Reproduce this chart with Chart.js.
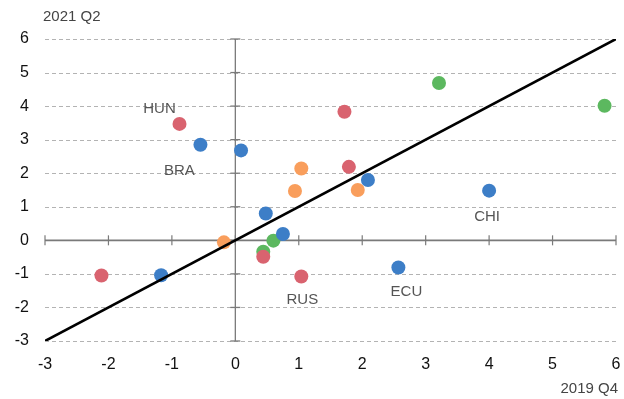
<!DOCTYPE html>
<html>
<head>
<meta charset="utf-8">
<script src="https://cdn.jsdelivr.net/npm/chart.js@4"></script>
<style>
  html, body { margin: 0; padding: 0; background: #fff; }
  #wrap { width: 624px; height: 399px; }
</style>
</head>
<body>
<div id="wrap"><canvas id="chart"></canvas></div>
<script>
// axis ranges / ticks
const xTicks = [-3, -2, -1, 0, 1, 2, 3, 4, 5, 6];
const yTicks = [-3, -2, -1, 0, 1, 2, 3, 4, 5, 6];
const xTitle = '2019 Q4';
const yTitle = '2021 Q2';

// series values, [2019 Q4, 2021 Q2]
const redPoints = [[-0.88, 3.47], [1.72, 3.83], [1.79, 2.19], [0.44, -0.49], [-2.11, -1.05], [1.04, -1.08]];
const bluePoints = [[-0.55, 2.85], [0.09, 2.68], [2.09, 1.80], [4.00, 1.48], [0.48, 0.80], [0.75, 0.19], [-1.17, -1.04], [2.57, -0.81]];
const orangePoints = [[1.04, 2.14], [0.94, 1.47], [1.93, 1.50], [-0.18, -0.06]];
const greenPoints = [[3.21, 4.69], [5.82, 4.01], [0.60, -0.01], [0.44, -0.34]];

// 45 degree line
const diagonal = [[-3, -3], [6, 6]];

// country labels: name, series, point index
const labelNames = ['HUN', 'BRA', 'CHI', 'ECU', 'RUS'];
const labelSeries = ['red', 'blue', 'blue', 'blue', 'red'];
const labelIndex = [0, 0, 3, 7, 5];

const labelOffsets = { HUN: [-20, -15], BRA: [-21, 26], CHI: [-2, 26], ECU: [8, 24], RUS: [1, 23] };

const fontFamily = '"Liberation Sans", Arial, Helvetica, sans-serif';

function toXY(arr) {
    return arr.map(p => ({ x: p[0], y: p[1] }));
}

const seriesIndex = { red: 1, blue: 2, orange: 3, green: 4 };

// grid, zero axes and their ticks
const axesPlugin = {
    id: 'axesPlugin',
    beforeDatasetsDraw(chart) {
        const ctx = chart.ctx;
        const xs = chart.scales.x, ys = chart.scales.y;
        const area = chart.chartArea;
        const x0 = xs.getPixelForValue(0);
        const y0 = ys.getPixelForValue(0);
        ctx.save();
        // dashed horizontal grid lines
        ctx.strokeStyle = '#b3b3b3';
        ctx.lineWidth = 1;
        ctx.setLineDash([4, 3]);
        yTicks.forEach(v => {
            if (v === 0) return;
            const y = Math.round(ys.getPixelForValue(v)) + 0.5;
            ctx.beginPath();
            ctx.moveTo(area.left, y);
            ctx.lineTo(area.right, y);
            ctx.stroke();
        });
        ctx.setLineDash([]);
        ctx.strokeStyle = '#7a7a7a';
        // vertical axis at x = 0
        ctx.lineWidth = 1.3;
        ctx.beginPath();
        ctx.moveTo(x0, ys.getPixelForValue(yTicks[yTicks.length - 1]));
        ctx.lineTo(x0, ys.getPixelForValue(yTicks[0]));
        ctx.stroke();
        yTicks.forEach(v => {
            const y = ys.getPixelForValue(v);
            ctx.beginPath();
            ctx.moveTo(x0 - 5, y);
            ctx.lineTo(x0 + 5, y);
            ctx.stroke();
        });
        // horizontal axis at y = 0
        ctx.lineWidth = 1.8;
        ctx.beginPath();
        ctx.moveTo(area.left, y0);
        ctx.lineTo(area.right, y0);
        ctx.stroke();
        ctx.lineWidth = 1.2;
        xTicks.forEach(v => {
            const x = xs.getPixelForValue(v);
            ctx.beginPath();
            ctx.moveTo(x, y0 - 5);
            ctx.lineTo(x, y0 + 5);
            ctx.stroke();
        });
        ctx.restore();
    },
    afterDraw(chart) {
        const ctx = chart.ctx;
        ctx.save();
        // axis titles
        ctx.fillStyle = '#444';
        ctx.font = '15px ' + fontFamily;
        ctx.textBaseline = 'middle';
        ctx.textAlign = 'left';
        ctx.fillText(yTitle, 43, 17);
        ctx.textAlign = 'right';
        ctx.fillText(xTitle, 618, 389);
        // country labels
        ctx.fillStyle = '#555';
        ctx.textAlign = 'center';
        labelNames.forEach((name, i) => {
            const meta = chart.getDatasetMeta(seriesIndex[labelSeries[i]]);
            const pt = meta.data[labelIndex[i]];
            const off = labelOffsets[name];
            ctx.fillText(name, pt.x + off[0], pt.y + off[1]);
        });
        ctx.restore();
    }
};

function pointSet(label, points, color) {
    return {
        type: 'scatter',
        label: label,
        data: toXY(points),
        backgroundColor: color,
        borderColor: color,
        borderWidth: 0,
        pointRadius: 7,
        pointHoverRadius: 7,
        order: 1
    };
}

new Chart(document.getElementById('chart'), {
    type: 'scatter',
    data: {
        datasets: [
            {
                type: 'line',
                label: '45 degree',
                data: toXY(diagonal),
                borderColor: '#000',
                borderWidth: 2.6,
                pointRadius: 0,
                fill: false,
                order: 0
            },
            pointSet('red', redPoints, '#d9636f'),
            pointSet('blue', bluePoints, '#3d7ec7'),
            pointSet('orange', orangePoints, '#f99e5c'),
            pointSet('green', greenPoints, '#5cb85f')
        ]
    },
    options: {
        responsive: true,
        maintainAspectRatio: false,
        animation: false,
        layout: { padding: { top: 39, right: 8, left: 0, bottom: 0 } },
        plugins: {
            legend: { display: false },
            tooltip: { enabled: false }
        },
        scales: {
            x: {
                type: 'linear',
                min: xTicks[0],
                max: xTicks[xTicks.length - 1],
                grid: { display: false },
                border: { display: false },
                afterFit(scale) {
                    scale.height = 58;
                    scale.paddingLeft = 0;
                    scale.paddingRight = 0;
                },
                afterBuildTicks(scale) { scale.ticks = xTicks.map(v => ({ value: v })); },
                ticks: {
                    color: '#111',
                    padding: 6,
                    font: { size: 16, family: fontFamily }
                }
            },
            y: {
                type: 'linear',
                min: yTicks[0],
                max: yTicks[yTicks.length - 1],
                grid: { display: false },
                border: { display: false },
                afterFit(scale) {
                    scale.width = 45;
                    scale.paddingTop = 0;
                    scale.paddingBottom = 0;
                },
                afterBuildTicks(scale) { scale.ticks = yTicks.map(v => ({ value: v })); },
                ticks: {
                    color: '#111',
                    padding: 8,
                    font: { size: 16, family: fontFamily }
                }
            }
        }
    },
    plugins: [axesPlugin]
});
</script>
</body>
</html>
